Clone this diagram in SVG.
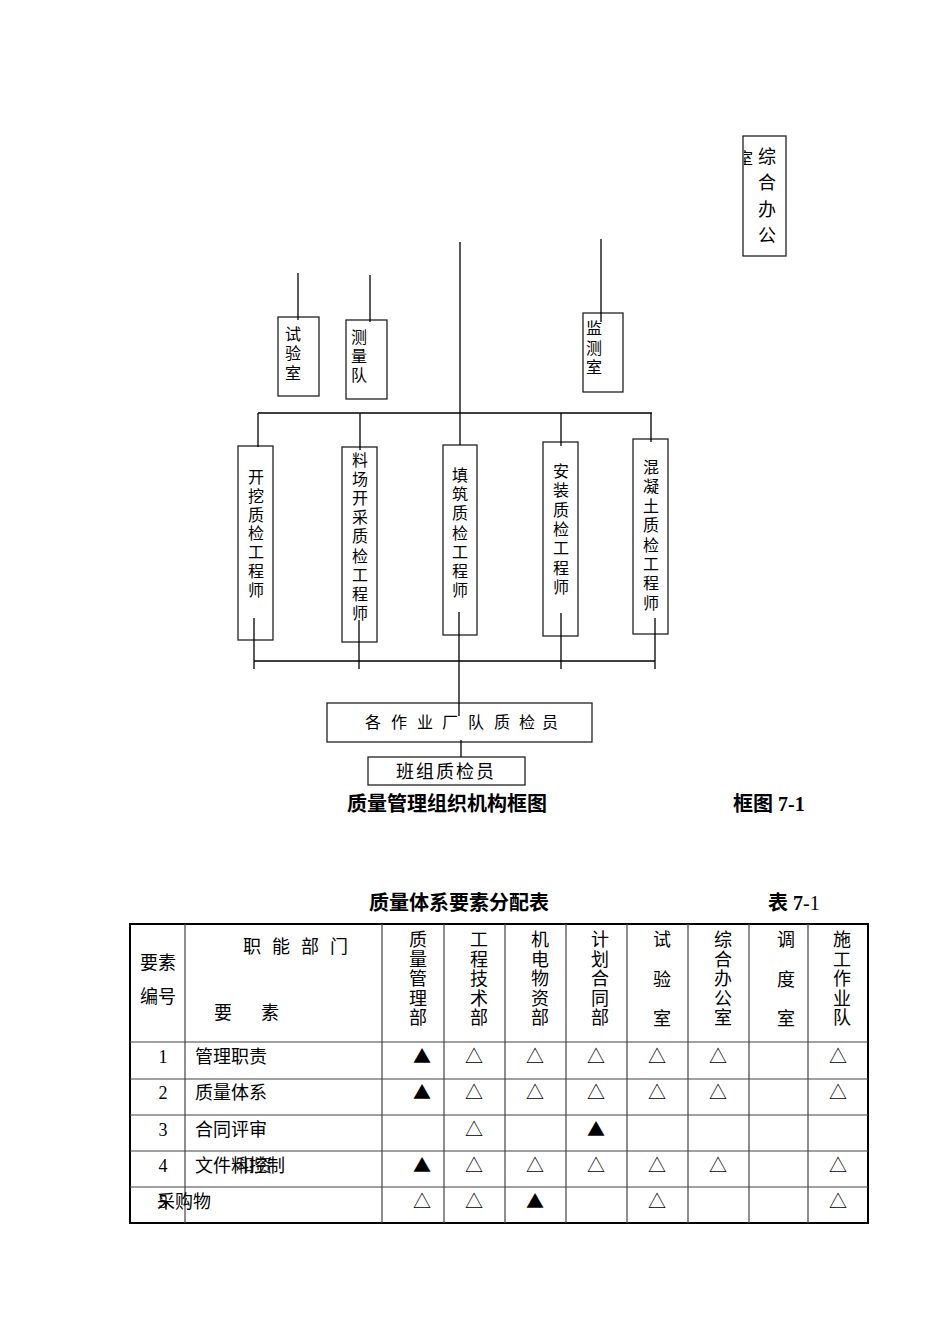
<svg xmlns="http://www.w3.org/2000/svg" width="950" height="1344" viewBox="0 0 950 1344">
<style>
text{font-family:"Liberation Serif","Noto Sans CJK SC",serif;fill:#000}
.v16{font-size:16px;text-anchor:middle}
.v18{font-size:18px;text-anchor:middle}
.t18{font-size:18px}
.cap{font-size:20px;font-weight:bold}
.sym{font-family:"Noto Sans CJK SC","DejaVu Sans",sans-serif;font-size:18px;text-anchor:middle}
.box{fill:#fff;stroke:#222;stroke-width:1.3}
.ln{stroke:#000;stroke-width:1.3;fill:none}
.tb{stroke:#000;stroke-width:2;fill:none}
.tl{stroke:#444;stroke-width:1.2;fill:none}
</style>
<defs>
<clipPath id="clipRoom"><rect x="744" y="140" width="9" height="30"/></clipPath>
</defs>
<rect width="950" height="1344" fill="#fff"/>

<g id="node-zonghe">
<rect class="box" x="743" y="136" width="43" height="120"/>
<text class="v16" x="745" y="164" clip-path="url(#clipRoom)">室</text>
<text class="v18"><tspan x="767" y="163">综</tspan><tspan x="767" y="189">合</tspan><tspan x="767" y="216">办</tspan><tspan x="767" y="242">公</tspan></text>
</g>

<g id="node-shiyan">
<rect class="box" x="278" y="317" width="41" height="79"/>
<text class="v16"><tspan x="293" y="340">试</tspan><tspan x="293" y="359">验</tspan><tspan x="293" y="379">室</tspan></text>
</g>

<g id="node-celiang">
<rect class="box" x="346" y="320" width="41" height="79"/>
<text class="v16"><tspan x="359" y="343">测</tspan><tspan x="359" y="362">量</tspan><tspan x="359" y="381">队</tspan></text>
</g>

<g id="node-jiance">
<rect class="box" x="583" y="313" width="40" height="79"/>
<text class="v16"><tspan x="594" y="334">监</tspan><tspan x="594" y="354">测</tspan><tspan x="594" y="373">室</tspan></text>
</g>

<g id="node-kaiwa">
<rect class="box" x="238" y="446" width="35" height="194"/>
<text class="v16"><tspan x="256" y="483">开</tspan><tspan x="256" y="502">挖</tspan><tspan x="256" y="521">质</tspan><tspan x="256" y="539">检</tspan><tspan x="256" y="558">工</tspan><tspan x="256" y="577">程</tspan><tspan x="256" y="596">师</tspan></text>
</g>

<g id="node-liaochang">
<rect class="box" x="342" y="447" width="35" height="195"/>
<text class="v16"><tspan x="360" y="466">料</tspan><tspan x="360" y="485">场</tspan><tspan x="360" y="504">开</tspan><tspan x="360" y="523">采</tspan><tspan x="360" y="542">质</tspan><tspan x="360" y="562">检</tspan><tspan x="360" y="581">工</tspan><tspan x="360" y="600">程</tspan><tspan x="360" y="619">师</tspan></text>
</g>

<g id="node-tianzhu">
<rect class="box" x="443" y="445" width="34" height="190"/>
<text class="v16"><tspan x="460" y="481">填</tspan><tspan x="460" y="500">筑</tspan><tspan x="460" y="519">质</tspan><tspan x="460" y="539">检</tspan><tspan x="460" y="558">工</tspan><tspan x="460" y="577">程</tspan><tspan x="460" y="596">师</tspan></text>
</g>

<g id="node-anzhuang">
<rect class="box" x="543" y="442" width="35" height="194"/>
<text class="v16"><tspan x="561" y="477">安</tspan><tspan x="561" y="496">装</tspan><tspan x="561" y="516">质</tspan><tspan x="561" y="535">检</tspan><tspan x="561" y="554">工</tspan><tspan x="561" y="574">程</tspan><tspan x="561" y="593">师</tspan></text>
</g>

<g id="node-hunningtu">
<rect class="box" x="633" y="439" width="35" height="195"/>
<text class="v16"><tspan x="651" y="473">混</tspan><tspan x="651" y="492">凝</tspan><tspan x="651" y="512">土</tspan><tspan x="651" y="531">质</tspan><tspan x="651" y="551">检</tspan><tspan x="651" y="570">工</tspan><tspan x="651" y="589">程</tspan><tspan x="651" y="609">师</tspan></text>
</g>

<g id="node-zuoye">
<rect class="box" x="327" y="703" width="265" height="39"/>
<text class="v16"><tspan x="373" y="728">各</tspan><tspan x="399" y="728">作</tspan><tspan x="425" y="728">业</tspan><tspan x="450" y="728">厂</tspan><tspan x="476" y="728">队</tspan><tspan x="502" y="728">质</tspan><tspan x="527" y="728">检</tspan><tspan x="550" y="728">员</tspan></text>
</g>

<g id="node-banzu">
<rect class="box" x="368" y="757" width="157" height="28"/>
<text class="v18" x="446" y="778" letter-spacing="2">班组质检员</text>
</g>

<g id="connectors">
<line class="ln" x1="298" y1="273" x2="298" y2="320"/>
<line class="ln" x1="370" y1="275" x2="370" y2="322"/>
<line class="ln" x1="460" y1="242" x2="460" y2="445"/>
<line class="ln" x1="601" y1="239" x2="601" y2="322"/>
<line class="ln" x1="258" y1="413" x2="652" y2="413"/>
<line class="ln" x1="258" y1="413" x2="258" y2="447"/>
<line class="ln" x1="360" y1="413" x2="360" y2="450"/>
<line class="ln" x1="561" y1="413" x2="561" y2="446"/>
<line class="ln" x1="651" y1="413" x2="651" y2="442"/>
<line class="ln" x1="254" y1="661" x2="655" y2="661"/>
<line class="ln" x1="254" y1="618" x2="254" y2="669"/>
<line class="ln" x1="359" y1="620" x2="359" y2="669"/>
<line class="ln" x1="561" y1="613" x2="561" y2="669"/>
<line class="ln" x1="655" y1="618" x2="655" y2="669"/>
<line class="ln" x1="459" y1="612" x2="459" y2="716"/>
<line class="ln" x1="461" y1="740" x2="461" y2="757"/>
</g>

<g id="captions">
<text class="cap" x="347" y="811">质量管理组织机构框图</text>
<text class="cap" x="733" y="811">框图 7-1</text>
<text class="cap" x="369" y="910">质量体系要素分配表</text>
<text class="cap" x="768" y="910">表 7<tspan font-weight="normal">-1</tspan></text>
</g>

<g id="table">
<rect class="tb" x="130" y="924" width="738" height="299"/>
<line class="tl" x1="185" y1="924" x2="185" y2="1223"/>
<line class="tl" x1="382" y1="924" x2="382" y2="1223"/>
<line class="tl" x1="444" y1="924" x2="444" y2="1223"/>
<line class="tl" x1="505" y1="924" x2="505" y2="1223"/>
<line class="tl" x1="566" y1="924" x2="566" y2="1223"/>
<line class="tl" x1="627" y1="924" x2="627" y2="1223"/>
<line class="tl" x1="688" y1="924" x2="688" y2="1223"/>
<line class="tl" x1="749" y1="924" x2="749" y2="1223"/>
<line class="tl" x1="808" y1="924" x2="808" y2="1223"/>
<line class="tl" x1="130" y1="1042" x2="868" y2="1042"/>
<line class="tl" x1="130" y1="1079" x2="868" y2="1079"/>
<line class="tl" x1="130" y1="1115" x2="868" y2="1115"/>
<line class="tl" x1="130" y1="1151" x2="868" y2="1151"/>
<line class="tl" x1="130" y1="1187" x2="868" y2="1187"/>

<text class="v18"><tspan x="158" y="969">要素</tspan><tspan x="158" y="1003">编号</tspan></text>
<text class="v18"><tspan x="252" y="953">职</tspan><tspan x="281" y="953">能</tspan><tspan x="310" y="953">部</tspan><tspan x="339" y="953">门</tspan></text>
<text class="v18"><tspan x="223" y="1019">要</tspan><tspan x="270" y="1019">素</tspan></text>

<text class="v18"><tspan x="418" y="946">质</tspan><tspan x="418" y="966">量</tspan><tspan x="418" y="985">管</tspan><tspan x="418" y="1005">理</tspan><tspan x="418" y="1024">部</tspan></text>
<text class="v18"><tspan x="479" y="946">工</tspan><tspan x="479" y="966">程</tspan><tspan x="479" y="985">技</tspan><tspan x="479" y="1005">术</tspan><tspan x="479" y="1024">部</tspan></text>
<text class="v18"><tspan x="540" y="946">机</tspan><tspan x="540" y="966">电</tspan><tspan x="540" y="985">物</tspan><tspan x="540" y="1005">资</tspan><tspan x="540" y="1024">部</tspan></text>
<text class="v18"><tspan x="600" y="946">计</tspan><tspan x="600" y="966">划</tspan><tspan x="600" y="985">合</tspan><tspan x="600" y="1005">同</tspan><tspan x="600" y="1024">部</tspan></text>
<text class="v18"><tspan x="662" y="946">试</tspan><tspan x="662" y="986">验</tspan><tspan x="662" y="1025">室</tspan></text>
<text class="v18"><tspan x="723" y="946">综</tspan><tspan x="723" y="966">合</tspan><tspan x="723" y="985">办</tspan><tspan x="723" y="1005">公</tspan><tspan x="723" y="1024">室</tspan></text>
<text class="v18"><tspan x="786" y="946">调</tspan><tspan x="786" y="986">度</tspan><tspan x="786" y="1025">室</tspan></text>
<text class="v18"><tspan x="842" y="946">施</tspan><tspan x="842" y="966">工</tspan><tspan x="842" y="985">作</tspan><tspan x="842" y="1005">业</tspan><tspan x="842" y="1024">队</tspan></text>

<text class="v18" x="163" y="1063">1</text>
<text class="t18" x="195" y="1063">管理职责</text>
<text class="v18" x="163" y="1099">2</text>
<text class="t18" x="195" y="1099">质量体系</text>
<text class="v18" x="163" y="1136">3</text>
<text class="t18" x="195" y="1136">合同评审</text>
<text class="v18" x="163" y="1172">4</text>
<text class="t18" x="195" y="1172">文件料控制</text>
<text class="t18" x="236" y="1172" opacity="0.85">和资</text>
<text class="v18" x="163" y="1208">5</text>
<text class="t18" x="157" y="1208">采购物</text>

<text class="sym" y="1063"><tspan x="422">▲</tspan><tspan x="474">△</tspan><tspan x="535">△</tspan><tspan x="596">△</tspan><tspan x="657">△</tspan><tspan x="718">△</tspan><tspan x="838">△</tspan></text>
<text class="sym" y="1099"><tspan x="422">▲</tspan><tspan x="474">△</tspan><tspan x="535">△</tspan><tspan x="596">△</tspan><tspan x="657">△</tspan><tspan x="718">△</tspan><tspan x="838">△</tspan></text>
<text class="sym" y="1136"><tspan x="474">△</tspan><tspan x="596">▲</tspan></text>
<text class="sym" y="1172"><tspan x="422">▲</tspan><tspan x="474">△</tspan><tspan x="535">△</tspan><tspan x="596">△</tspan><tspan x="657">△</tspan><tspan x="718">△</tspan><tspan x="838">△</tspan></text>
<text class="sym" y="1208"><tspan x="422">△</tspan><tspan x="474">△</tspan><tspan x="535">▲</tspan><tspan x="657">△</tspan><tspan x="838">△</tspan></text>
</g>
</svg>
